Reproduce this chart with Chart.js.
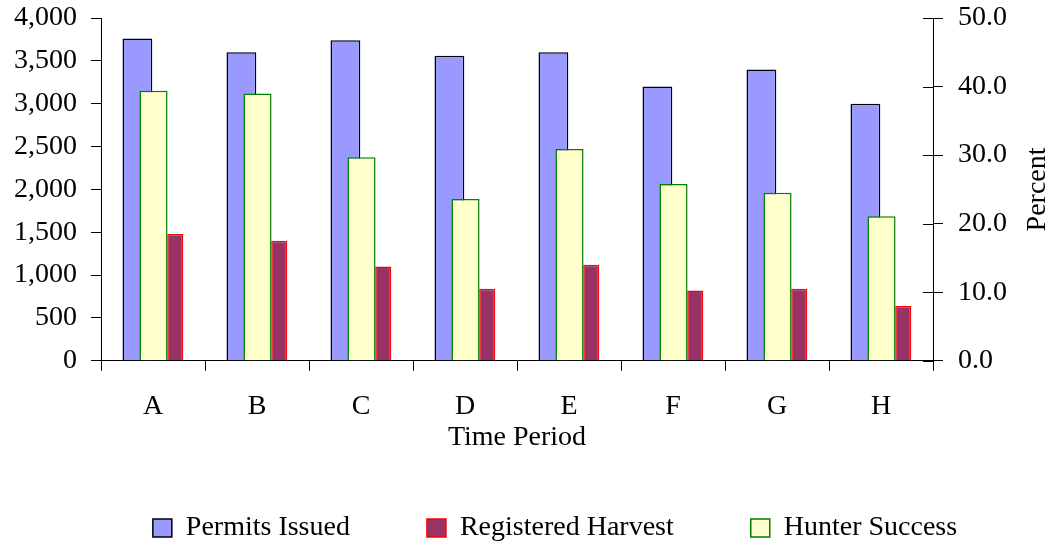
<!DOCTYPE html>
<html>
<head>
<meta charset="utf-8">
<script src="https://cdn.jsdelivr.net/npm/chart.js@4.4.1/dist/chart.umd.min.js"></script>
<style>
  html, body { margin: 0; padding: 0; background: #fff; }
  #wrap { width: 1052px; height: 545px; }
</style>
</head>
<body>
<div id="wrap"><canvas id="chart"></canvas></div>
<script>
const periods = ['A', 'B', 'C', 'D', 'E', 'F', 'G', 'H'];
const permitsIssued = [3760, 3600, 3740, 3560, 3600, 3200, 3400, 3000];
const registeredHarvest = [1480, 1400, 1100, 840, 1120, 820, 840, 640];
const hunterSuccess = [39.4, 39.0, 29.7, 23.6, 30.9, 25.8, 24.5, 21.1];
const countTicks = [0, 500, 1000, 1500, 2000, 2500, 3000, 3500, 4000];
const percentTicks = [0, 10, 20, 30, 40, 50];

Chart.defaults.font.family = "'Liberation Serif', 'Times New Roman', serif";
Chart.defaults.font.size = 28;
Chart.defaults.color = '#000';

// the three bars of a period overlap, so each series gets its own hidden
// index axis, shifted by a fraction of a category
const barShift = { permits: -0.15, success: 0.005, harvest: 0.214 };

const toPoints = (values) => values.map((v, i) => ({ x: i, y: v }));

const hiddenIndexAxis = (shift) => ({
  type: 'linear',
  display: false,
  offset: false,
  min: -0.5 - shift,
  max: periods.length - 0.5 - shift,
  afterBuildTicks: (scale) => { scale.ticks = periods.map((p, i) => ({ value: i })); }
});

// let the top label stick out above the plot like in the original
const noTopPadding = (scale) => { scale.paddingTop = 0; };

// right axis: ticks cross the axis line, title reads bottom to top
const percentAxisExtras = {
  id: 'percentAxisExtras',
  afterDraw(chart) {
    const ctx = chart.ctx;
    const area = chart.chartArea;
    const scale = chart.scales.y2;
    ctx.save();
    ctx.strokeStyle = '#000';
    ctx.lineWidth = 1;
    ctx.beginPath();
    percentTicks.forEach(v => {
      const y = Math.round(scale.getPixelForValue(v)) + 0.5;
      ctx.moveTo(area.right - 10, y);
      ctx.lineTo(area.right, y);
    });
    ctx.stroke();

    ctx.translate(1045, (area.top + area.bottom) / 2);
    ctx.rotate(-Math.PI / 2);
    ctx.font = "28px 'Liberation Serif'";
    ctx.fillStyle = '#000';
    ctx.textAlign = 'center';
    ctx.textBaseline = 'alphabetic';
    ctx.fillText('Percent', 0, 0);
    ctx.restore();
  }
};

// legend sits a bit right of the page centre in the original
const legendShift = {
  id: 'legendShift',
  afterLayout(chart) {
    chart.legend.left += 44;
    chart.legend.right += 44;
  }
};

const axisGrid = {
  drawOnChartArea: false,
  drawTicks: true,
  tickLength: 10,
  color: '#000',
  lineWidth: 1
};

new Chart(document.getElementById('chart'), {
  type: 'bar',
  data: {
    labels: periods,
    datasets: [
      {
        label: 'Permits Issued',
        data: toPoints(permitsIssued),
        xAxisID: 'xPermits',
        yAxisID: 'y',
        grouped: false,
        order: 1,
        backgroundColor: '#9999FF',
        borderColor: '#000000',
        borderWidth: 1.5,
        categoryPercentage: 1,
        barPercentage: 0.287
      },
      {
        label: 'Registered Harvest',
        data: toPoints(registeredHarvest),
        xAxisID: 'xHarvest',
        yAxisID: 'y',
        grouped: false,
        order: 2,
        backgroundColor: '#993366',
        borderColor: '#FF0000',
        borderWidth: 1.5,
        categoryPercentage: 1,
        barPercentage: 0.154
      },
      {
        label: 'Hunter Success',
        data: toPoints(hunterSuccess),
        xAxisID: 'xSuccess',
        yAxisID: 'y2',
        grouped: false,
        order: 0,
        backgroundColor: '#FFFFCC',
        borderColor: '#008000',
        borderWidth: 1.5,
        categoryPercentage: 1,
        barPercentage: 0.27
      }
    ]
  },
  options: {
    responsive: true,
    maintainAspectRatio: false,
    animation: false,
    layout: { padding: { top: 18, left: 0, right: 30, bottom: -7 } },
    plugins: {
      tooltip: { enabled: false },
      legend: {
        position: 'bottom',
        labels: {
          boxWidth: 19,
          boxHeight: 18,
          padding: 77,
          font: { size: 28 },
          color: '#000',
          sort: (a, b) => a.datasetIndex - b.datasetIndex
        }
      }
    },
    scales: {
      x: {
        type: 'category',
        offset: true,
        grid: Object.assign({ offset: true }, axisGrid),
        border: { display: true, color: '#000', width: 1 },
        ticks: { padding: 19, font: { size: 28 } },
        title: {
          display: true,
          text: 'Time Period',
          font: { size: 28 },
          padding: { top: -22, bottom: -17 }
        }
      },
      xPermits: hiddenIndexAxis(barShift.permits),
      xSuccess: hiddenIndexAxis(barShift.success),
      xHarvest: hiddenIndexAxis(barShift.harvest),
      y: {
        position: 'left',
        min: 0,
        max: 4000,
        afterBuildTicks: (scale) => { scale.ticks = countTicks.map(v => ({ value: v })); },
        afterFit: noTopPadding,
        grid: axisGrid,
        border: { display: true, color: '#000', width: 1 },
        ticks: {
          padding: 14,
          callback: (v) => v.toLocaleString('en-US')
        }
      },
      y2: {
        position: 'right',
        min: 0,
        max: 50,
        afterBuildTicks: (scale) => { scale.ticks = percentTicks.map(v => ({ value: v })); },
        afterFit: noTopPadding,
        grid: axisGrid,
        border: { display: true, color: '#000', width: 1 },
        ticks: {
          padding: 15,
          callback: (v) => v.toFixed(1)
        }
      }
    }
  },
  plugins: [percentAxisExtras, legendShift]
});
</script>
</body>
</html>
